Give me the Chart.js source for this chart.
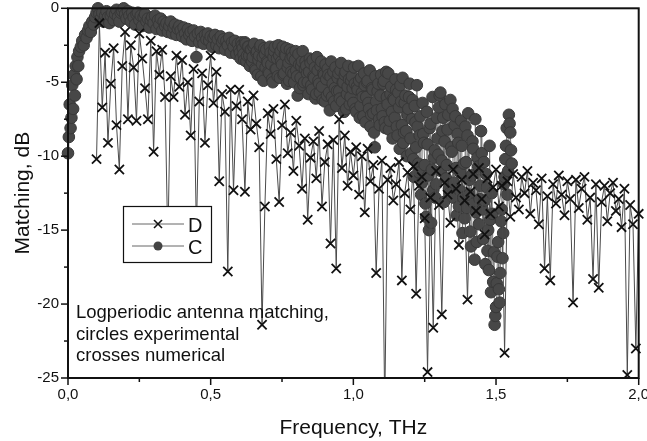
<!DOCTYPE html>
<html>
<head>
<meta charset="utf-8">
<title>Logperiodic antenna matching</title>
<script src="https://cdn.jsdelivr.net/npm/chart.js"></script>
<style>
  body { margin: 0; background: #fff; }
  canvas { display: block; }
</style>
</head>
<body>
<canvas id="myChart" width="647" height="441"></canvas>
<script>
// Axis ticks and labels
const xMajor = [0, 0.5, 1, 1.5, 2];
const xMinor = [0.25, 0.75, 1.25, 1.75];
const xTickLabels = ['0,0', '0,5', '1,0', '1,5', '2,0'];
const yMajor = [0, -5, -10, -15, -20, -25];
const yMinor = [-2.5, -7.5, -12.5, -17.5, -22.5];
const yTickLabels = ['0', '-5', '-10', '-15', '-20', '-25'];

// D = crosses, numerical (frequency in THz, matching in dB)
const dFreq = [
  0.1, 0.11, 0.12, 0.13, 0.14, 0.15, 0.16, 0.17, 0.18, 0.19,
  0.2, 0.21, 0.22, 0.23, 0.24, 0.25, 0.26, 0.27, 0.28, 0.29,
  0.3, 0.31, 0.32, 0.33, 0.34, 0.35, 0.36, 0.37, 0.38, 0.39,
  0.4, 0.41, 0.42, 0.43, 0.44, 0.45, 0.46, 0.47, 0.48, 0.49,
  0.5, 0.51, 0.52, 0.53, 0.54, 0.55, 0.56, 0.57, 0.58, 0.59,
  0.6, 0.61, 0.62, 0.63, 0.64, 0.65, 0.66, 0.67, 0.68, 0.69,
  0.7, 0.71, 0.72, 0.73, 0.74, 0.75, 0.76, 0.77, 0.78, 0.79,
  0.8, 0.81, 0.82, 0.83, 0.84, 0.85, 0.86, 0.87, 0.88, 0.89,
  0.9, 0.91, 0.92, 0.93, 0.94, 0.95, 0.96, 0.97, 0.98, 0.99,
  1.0, 1.01, 1.02, 1.03, 1.04, 1.05, 1.06, 1.07, 1.08, 1.09,
  1.1, 1.11, 1.12, 1.13, 1.14, 1.15, 1.16, 1.17, 1.18, 1.19,
  1.2, 1.21, 1.22, 1.23, 1.24, 1.25, 1.26, 1.27, 1.28, 1.29,
  1.3, 1.31, 1.32, 1.33, 1.34, 1.35, 1.36, 1.37, 1.38, 1.39,
  1.4, 1.41, 1.42, 1.43, 1.44, 1.45, 1.46, 1.47, 1.48, 1.49,
  1.5, 1.51, 1.52, 1.53, 1.54, 1.55, 1.56, 1.57, 1.58, 1.59,
  1.6, 1.61, 1.62, 1.63, 1.64, 1.65, 1.66, 1.67, 1.68, 1.69,
  1.7, 1.71, 1.72, 1.73, 1.74, 1.75, 1.76, 1.77, 1.78, 1.79,
  1.8, 1.81, 1.82, 1.83, 1.84, 1.85, 1.86, 1.87, 1.88, 1.89,
  1.9, 1.91, 1.92, 1.93, 1.94, 1.95, 1.96, 1.97, 1.98, 1.99,
  2.0
];
const dMatch = [
  -10.2, -1.0, -6.7, -3.0, -9.1, -5.1, -2.7, -7.9, -10.9, -3.9,
  -1.6, -7.5, -2.5, -4.0, -7.6, -1.7, -3.4, -5.4, -7.5, -2.2,
  -9.7, -2.9, -4.5, -2.8, -6.0, -16.0, -4.6, -6.0, -3.2, -5.3,
  -3.5, -7.2, -5.0, -8.6, -4.1, -15.0, -6.3, -4.4, -9.1, -5.2,
  -3.2, -6.4, -4.3, -11.7, -5.8, -7.0, -17.8, -5.5, -12.3, -6.6,
  -5.5, -7.5, -12.4, -6.3, -8.2, -5.9, -7.8, -9.4, -21.4, -13.4,
  -7.1, -8.5, -6.8, -10.2, -13.1, -7.9, -6.5, -9.8, -8.4, -11.0,
  -7.6, -9.3, -12.2, -8.8, -14.3, -10.1, -9.0, -11.5, -8.3, -13.4,
  -10.4, -9.2, -15.9, -8.9, -17.6, -7.5, -10.8, -8.6, -12.0, -9.7,
  -11.3, -9.4, -12.6, -10.0, -13.8, -9.5, -11.7, -10.6, -17.9, -12.2,
  -10.3, -27.0, -11.6, -10.8, -13.0, -11.9, -10.4, -18.4, -12.5, -11.1,
  -13.6, -10.7, -19.3, -12.0, -11.4, -14.2, -24.6, -12.8, -21.6, -11.0,
  -13.3, -20.7, -11.8, -12.6, -14.5, -10.9, -12.2, -16.0, -11.6, -13.0,
  -19.7, -12.4, -11.2, -13.7, -10.8, -12.9, -15.3, -11.5, -13.9, -12.1,
  -10.9, -13.4, -12.0, -23.3, -11.7, -14.1, -11.2, -12.8, -13.6, -11.4,
  -12.5, -11.0, -13.9, -11.8, -12.3, -14.6, -11.5, -17.6, -12.7, -18.4,
  -11.9, -13.2, -11.3, -12.6, -14.0, -11.7, -12.9, -19.9, -11.6, -13.5,
  -12.2, -11.4, -14.3, -12.8, -18.3, -11.9, -18.9, -13.1, -12.0, -14.4,
  -12.5, -11.8, -13.7, -12.9, -14.8, -12.2, -24.8, -13.3, -14.6, -23.0,
  -13.9
];

// C = circles, experimental
const cFreq = [
  0, 0.003, 0.006, 0.009, 0.012, 0.015, 0.018, 0.021, 0.024, 0.027, 0.03, 0.033, 0.036, 0.039,
  0.045, 0.05, 0.055, 0.06, 0.065, 0.07, 0.075, 0.08, 0.085, 0.09,
  0.095, 0.1, 0.105, 0.11, 0.115, 0.12, 0.125, 0.13, 0.135, 0.14,
  0.145, 0.15, 0.155, 0.16, 0.165, 0.17, 0.175, 0.18, 0.185, 0.19,
  0.195, 0.2, 0.205, 0.21, 0.215, 0.22, 0.225, 0.23, 0.235, 0.24,
  0.245, 0.25, 0.255, 0.26, 0.265, 0.27, 0.275, 0.28, 0.285, 0.29,
  0.295, 0.3, 0.305, 0.31, 0.315, 0.32, 0.325, 0.33, 0.335, 0.34,
  0.345, 0.35, 0.355, 0.36, 0.365, 0.37, 0.375, 0.38, 0.385, 0.39,
  0.395, 0.4, 0.405, 0.41, 0.415, 0.42, 0.425, 0.43, 0.435, 0.44,
  0.445, 0.45, 0.455, 0.46, 0.465, 0.47, 0.475, 0.48, 0.485, 0.49,
  0.495, 0.5, 0.505, 0.51, 0.515, 0.52, 0.525, 0.53, 0.535, 0.54,
  0.545, 0.55, 0.555, 0.56, 0.565, 0.57, 0.575, 0.58, 0.585, 0.59,
  0.595, 0.6, 0.605, 0.61, 0.615, 0.62, 0.625, 0.63, 0.635, 0.64,
  0.645, 0.65, 0.655, 0.66, 0.665, 0.67, 0.675, 0.68, 0.685, 0.69,
  0.695, 0.7, 0.705, 0.71, 0.715, 0.72, 0.725, 0.73, 0.735, 0.74,
  0.745, 0.75, 0.755, 0.76, 0.765, 0.77, 0.775, 0.78, 0.785, 0.79,
  0.795, 0.8, 0.805, 0.81, 0.815, 0.82, 0.825, 0.83, 0.835, 0.84,
  0.845, 0.85, 0.855, 0.86, 0.865, 0.87, 0.875, 0.88, 0.885, 0.89,
  0.895, 0.9, 0.905, 0.91, 0.915, 0.92, 0.925, 0.93, 0.935, 0.94,
  0.945, 0.95, 0.955, 0.96, 0.965, 0.97, 0.975, 0.98, 0.985, 0.99,
  0.995, 1.0, 1.005, 1.01, 1.015, 1.02, 1.025, 1.03, 1.035, 1.04,
  1.045, 1.05, 1.055, 1.06, 1.065, 1.07, 1.075, 1.08, 1.085, 1.09,
  1.095, 1.1, 1.105, 1.11, 1.115, 1.12, 1.125, 1.13, 1.135, 1.14,
  1.145, 1.15, 1.155, 1.16, 1.165, 1.17, 1.175, 1.18, 1.185, 1.19,
  1.195, 1.2, 1.205, 1.21, 1.215, 1.22, 1.225, 1.23, 1.235, 1.24,
  1.245, 1.25, 1.255, 1.26, 1.265, 1.27, 1.275, 1.28, 1.285, 1.29,
  1.295, 1.3, 1.305, 1.31, 1.315, 1.32, 1.325, 1.33, 1.335, 1.34,
  1.345, 1.35, 1.355, 1.36, 1.365, 1.37, 1.375, 1.38, 1.385, 1.39,
  1.395, 1.4, 1.405, 1.41, 1.415, 1.42, 1.425, 1.43, 1.435, 1.44,
  1.445, 1.45, 1.455, 1.46, 1.465, 1.47, 1.475, 1.48, 1.485, 1.49,
  1.495, 1.5, 1.505, 1.51, 1.515, 1.52, 1.525, 1.53, 1.535, 1.54,
  1.545, 1.55, 1.555
];
const cMatch = [
  -9.8, -8.7, -6.5, -8.1, -7.4, -5.2, -6.8, -4.5, -5.9, -3.9, -4.8, -3.3, -3.9, -2.9,
  -2.6, -2.2, -2.5, -1.8, -2.0, -1.5, -1.2, -1.6, -0.9, -1.1,
  -0.6, -0.3, 0.0, -0.4, -0.7, -0.3, -0.9, -0.5, -0.2, -0.6,
  -1.0, -0.5, -0.3, -0.8, -0.4, -0.1, -0.6, -0.9, -0.3, -0.2,
  0.0, -0.4, -0.7, -0.2, -0.5, -0.9, -0.3, -0.6, -1.1, -0.4,
  -0.3, -0.8, -0.5, -1.2, -0.6, -0.4, -0.9, -0.7, -1.3, -0.8,
  -0.6, -1.0, -0.5, -1.4, -0.8, -1.1, -0.7, -1.5, -0.9, -1.2,
  -1.0, -1.6, -1.2, -0.9, -1.7, -1.3, -1.1, -1.8, -1.4, -1.2,
  -1.5, -1.9, -1.3, -1.7, -2.1, -1.4, -1.8, -1.6, -2.2, -1.5,
  -1.9, -3.3, -1.7, -2.3, -1.6, -2.0, -2.4, -1.8, -2.1, -1.7,
  -2.2, -1.9, -2.6, -2.0, -1.8, -2.5, -2.1, -2.7, -1.9, -2.3,
  -2.1, -2.8, -2.2, -2.5, -2.0, -3.0, -2.3, -2.6, -2.2, -3.1,
  -2.4, -2.8, -3.4, -2.5, -3.1, -2.3, -3.6, -2.6, -3.2, -2.8,
  -3.6, -2.6, -4.1, -3.0, -4.5, -3.2, -2.5, -3.8, -4.9, -3.1,
  -2.8, -3.7, -4.4, -3.0, -4.8, -3.3, -2.6, -4.1, -4.6, -3.2,
  -2.9, -3.8, -4.5, -3.1, -2.7, -4.0, -4.9, -3.4, -3.0, -4.4,
  -3.5, -4.2, -5.9, -3.8, -4.7, -3.6, -5.2, -4.1, -3.9, -5.0,
  -4.3, -3.7, -5.5, -4.6, -4.0, -5.8, -4.2, -5.1, -3.9, -5.3,
  -4.4, -6.3, -4.8, -4.1, -5.7, -4.6, -6.0, -4.3, -5.4, -6.6,
  -4.7, -5.6, -4.2, -6.3, -5.0, -4.5, -6.8, -5.3, -4.8, -6.0,
  -4.6, -6.4, -5.1, -7.0, -5.5, -4.9, -6.6, -5.7, -7.3, -5.2,
  -6.0, -4.9, -6.8, -8.0, -5.4, -7.1, -9.4, -6.3, -5.6, -7.5,
  -5.9, -6.8, -5.1, -7.7, -4.3, -6.5, -8.2, -5.8, -7.0, -6.1,
  -7.4, -5.5, -8.6, -6.7, -5.2, -7.9, -9.1, -6.4, -8.3, -7.2,
  -6.0, -8.8, -7.5, -10.2, -6.6, -9.4, -8.0, -11.1, -7.3, -11.8,
  -8.5, -10.6, -14.1, -9.2, -15.0, -7.8, -10.9, -12.3, -9.6, -11.9,
  -8.8, -6.7, -5.7, -10.3, -7.4, -9.0, -11.5, -8.2, -12.2, -6.2,
  -9.7, -12.8, -7.9, -10.8, -8.5, -13.4, -11.1, -9.3, -12.8, -14.2,
  -10.4, -8.6, -12.6, -15.1, -11.3, -9.5, -17.0, -13.8, -10.1, -14.6,
  -12.0, -9.8, -15.6, -13.0, -11.2, -16.4, -17.7, -14.3, -12.5, -18.5,
  -21.4, -20.2, -16.8, -19.0, -17.9, -13.6, -15.2, -11.4, -9.3, -12.6,
  -7.2, -8.4, -10.5
];

// C, extra readings in between (the measured curve is densest above 0.6 THz)
const cFreqMid = [
  0.6025, 0.6075, 0.6125, 0.6175, 0.6225, 0.6275, 0.6325, 0.6375, 0.6425, 0.6475,
  0.6525, 0.6575, 0.6625, 0.6675, 0.6725, 0.6775, 0.6825, 0.6875, 0.6925, 0.6975,
  0.7025, 0.7075, 0.7125, 0.7175, 0.7225, 0.7275, 0.7325, 0.7375, 0.7425, 0.7475,
  0.7525, 0.7575, 0.7625, 0.7675, 0.7725, 0.7775, 0.7825, 0.7875, 0.7925, 0.7975,
  0.8025, 0.8075, 0.8125, 0.8175, 0.8225, 0.8275, 0.8325, 0.8375, 0.8425, 0.8475,
  0.8525, 0.8575, 0.8625, 0.8675, 0.8725, 0.8775, 0.8825, 0.8875, 0.8925, 0.8975,
  0.9025, 0.9075, 0.9125, 0.9175, 0.9225, 0.9275, 0.9325, 0.9375, 0.9425, 0.9475,
  0.9525, 0.9575, 0.9625, 0.9675, 0.9725, 0.9775, 0.9825, 0.9875, 0.9925, 0.9975,
  1.0025, 1.0075, 1.0125, 1.0175, 1.0225, 1.0275, 1.0325, 1.0375, 1.0425, 1.0475,
  1.0525, 1.0575, 1.0625, 1.0675, 1.0725, 1.0775, 1.0825, 1.0875, 1.0925, 1.0975,
  1.1025, 1.1075, 1.1125, 1.1175, 1.1225, 1.1275, 1.1325, 1.1375, 1.1425, 1.1475,
  1.1525, 1.1575, 1.1625, 1.1675, 1.1725, 1.1775, 1.1825, 1.1875, 1.1925, 1.1975,
  1.2025, 1.2075, 1.2125, 1.2175, 1.2225, 1.2275, 1.2325, 1.2375, 1.2425, 1.2475,
  1.2525, 1.2575, 1.2625, 1.2675, 1.2725, 1.2775, 1.2825, 1.2875, 1.2925, 1.2975,
  1.3025, 1.3075, 1.3125, 1.3175, 1.3225, 1.3275, 1.3325, 1.3375, 1.3425, 1.3475,
  1.3525, 1.3575, 1.3625, 1.3675, 1.3725, 1.3775, 1.3825, 1.3875, 1.3925, 1.3975,
  1.4025, 1.4075, 1.4125, 1.4175, 1.4225, 1.4275, 1.4325, 1.4375, 1.4425, 1.4475,
  1.4525, 1.4575, 1.4625, 1.4675, 1.4725, 1.4775, 1.4825, 1.4875, 1.4925, 1.4975,
  1.5025, 1.5075, 1.5125, 1.5175, 1.5225, 1.5275, 1.5325, 1.5375, 1.5425, 1.5475,
  1.5525
];
const cMatchMid = [
  -3.0, -2.3, -2.7, -3.5, -2.4, -3.2, -2.6, -3.9, -2.8, -3.3,
  -2.4, -4.2, -2.9, -3.5, -2.6, -4.6, -3.3, -2.7, -4.0, -3.6,
  -4.3, -2.6, -3.8, -5.0, -2.9, -4.1, -3.4, -2.5, -4.7, -3.6,
  -2.6, -4.4, -3.2, -5.1, -3.7, -2.8, -4.3, -3.3, -5.0, -2.9,
  -4.6, -3.1, -5.4, -3.9, -2.9, -5.0, -3.6, -4.4, -5.8, -3.4,
  -5.2, -3.5, -4.7, -6.1, -3.3, -4.9, -5.7, -3.6, -6.2, -4.5,
  -3.8, -5.9, -4.5, -6.9, -3.6, -5.1, -6.3, -4.0, -5.6, -4.4,
  -6.1, -3.7, -5.0, -7.0, -4.3, -5.8, -3.9, -6.5, -4.9, -5.4,
  -4.0, -6.8, -5.3, -3.9, -7.4, -4.7, -6.0, -4.4, -7.7, -5.0,
  -6.4, -4.2, -7.2, -5.5, -8.4, -4.6, -6.9, -5.1, -7.9, -4.5,
  -7.3, -4.9, -8.1, -6.0, -4.4, -7.6, -5.3, -8.8, -6.2, -4.8,
  -8.0, -5.7, -9.5, -6.3, -4.7, -8.4, -5.9, -10.0, -6.8, -5.1,
  -9.8, -6.2, -11.4, -7.7, -5.2, -10.5, -8.6, -12.6, -6.4, -9.1,
  -13.2, -7.0, -11.3, -8.1, -14.5, -6.0, -10.1, -12.8, -7.4, -9.9,
  -5.9, -11.0, -8.3, -13.1, -6.5, -10.6, -7.2, -12.5, -9.4, -6.8,
  -11.8, -7.3, -14.0, -9.1, -12.3, -7.6, -15.2, -10.5, -8.0, -13.5,
  -7.1, -11.6, -16.1, -9.0, -13.2, -7.5, -15.8, -10.7, -12.9, -8.3,
  -13.6, -10.4, -17.3, -12.1, -15.0, -9.3, -19.2, -13.9, -16.5, -20.8,
  -18.6, -15.8, -19.9, -14.4, -16.9, -11.9, -10.2, -8.1, -11.0, -7.8,
  -9.6
];

const dPoints = dFreq.map((f, i) => ({ x: f, y: dMatch[i] }));
const cPoints = cFreq.map((f, i) => ({ x: f, y: cMatch[i] }))
  .concat(cFreqMid.map((f, i) => ({ x: f, y: cMatchMid[i] })))
  .sort((a, b) => a.x - b.x);

const fontName = '"Liberation Sans", Arial, sans-serif';

// frame, outward ticks, tick labels, axis titles, boxed legend and the note
const decor = {
  id: 'decor',
  afterDraw(chart) {
    const ctx = chart.ctx;
    const area = chart.chartArea;
    const xs = chart.scales.x;
    const ys = chart.scales.y;

    const seg = (x1, y1, x2, y2) => {
      ctx.beginPath();
      ctx.moveTo(x1, y1);
      ctx.lineTo(x2, y2);
      ctx.stroke();
    };

    ctx.save();

    // legend
    ctx.fillStyle = '#fff';
    ctx.fillRect(123, 206, 88, 56);
    ctx.strokeStyle = '#111';
    ctx.lineWidth = 1.2;
    ctx.strokeRect(123.5, 206.5, 88, 56);

    ctx.strokeStyle = '#666';
    ctx.lineWidth = 1;
    seg(132, 224, 184, 224);
    seg(132, 246, 184, 246);
    ctx.strokeStyle = '#111';
    ctx.lineWidth = 1.6;
    seg(154, 220, 162, 228);
    seg(154, 228, 162, 220);
    ctx.fillStyle = '#444';
    ctx.beginPath();
    ctx.arc(158, 246, 4.5, 0, Math.PI * 2);
    ctx.fill();

    ctx.fillStyle = '#111';
    ctx.font = '20px ' + fontName;
    ctx.textAlign = 'left';
    ctx.textBaseline = 'alphabetic';
    ctx.fillText('D', 188, 232);
    ctx.fillText('C', 188, 254);

    // note
    ctx.font = '18.5px ' + fontName;
    ctx.fillText('Logperiodic antenna matching,', 76, 318);
    ctx.fillText('circles experimental', 76, 340);
    ctx.fillText('crosses numerical', 76, 361);

    // frame
    ctx.strokeStyle = '#111';
    ctx.lineWidth = 2;
    ctx.strokeRect(area.left, area.top, area.right - area.left, area.bottom - area.top);

    // ticks
    ctx.lineWidth = 1.5;
    xMajor.forEach(v => { const p = xs.getPixelForValue(v); seg(p, area.bottom, p, area.bottom + 7); });
    xMinor.forEach(v => { const p = xs.getPixelForValue(v); seg(p, area.bottom, p, area.bottom + 4); });
    yMajor.forEach(v => { const p = ys.getPixelForValue(v); seg(area.left, p, area.left - 7, p); });
    yMinor.forEach(v => { const p = ys.getPixelForValue(v); seg(area.left, p, area.left - 4, p); });

    // tick labels
    ctx.font = '15px ' + fontName;
    ctx.textAlign = 'center';
    ctx.textBaseline = 'top';
    xMajor.forEach((v, i) => ctx.fillText(xTickLabels[i], xs.getPixelForValue(v), area.bottom + 9));
    ctx.textAlign = 'right';
    ctx.textBaseline = 'middle';
    yMajor.forEach((v, i) => ctx.fillText(yTickLabels[i], area.left - 9, ys.getPixelForValue(v)));

    // axis titles
    ctx.font = '21px ' + fontName;
    ctx.textAlign = 'center';
    ctx.textBaseline = 'alphabetic';
    ctx.fillText('Frequency, THz', (area.left + area.right) / 2, 434);
    ctx.save();
    ctx.translate(29, (area.top + area.bottom) / 2);
    ctx.rotate(-Math.PI / 2);
    ctx.fillText('Matching, dB', 0, 0);
    ctx.restore();

    ctx.restore();
  }
};

const myChart = new Chart(document.getElementById('myChart'), {
  type: 'line',
  data: {
    datasets: [
      {
        label: 'D',
        data: dPoints,
        borderColor: '#4a4a4a',
        borderWidth: 1,
        pointStyle: 'crossRot',
        pointRadius: 6.5,
        pointBorderWidth: 1.8,
        pointBorderColor: '#111',
        pointBackgroundColor: '#111',
        clip: { left: 10, top: 10, right: 10, bottom: 1 }
      },
      {
        label: 'C',
        data: cPoints,
        borderColor: '#777',
        borderWidth: 1,
        pointStyle: 'circle',
        pointRadius: 5.8,
        pointBorderWidth: 1,
        pointBorderColor: '#383838',
        pointBackgroundColor: '#474747',
        clip: { left: 10, top: 10, right: 10, bottom: 1 }
      }
    ]
  },
  options: {
    responsive: false,
    animation: false,
    devicePixelRatio: 1,
    layout: { padding: { left: 68, right: 7, top: 8, bottom: 63 } },
    elements: { line: { tension: 0 } },
    scales: {
      x: { type: 'linear', min: 0, max: 2, display: false },
      y: { type: 'linear', min: -25, max: 0, display: false }
    },
    plugins: {
      legend: { display: false },
      tooltip: { enabled: false }
    }
  },
  plugins: [decor]
});
</script>
</body>
</html>
